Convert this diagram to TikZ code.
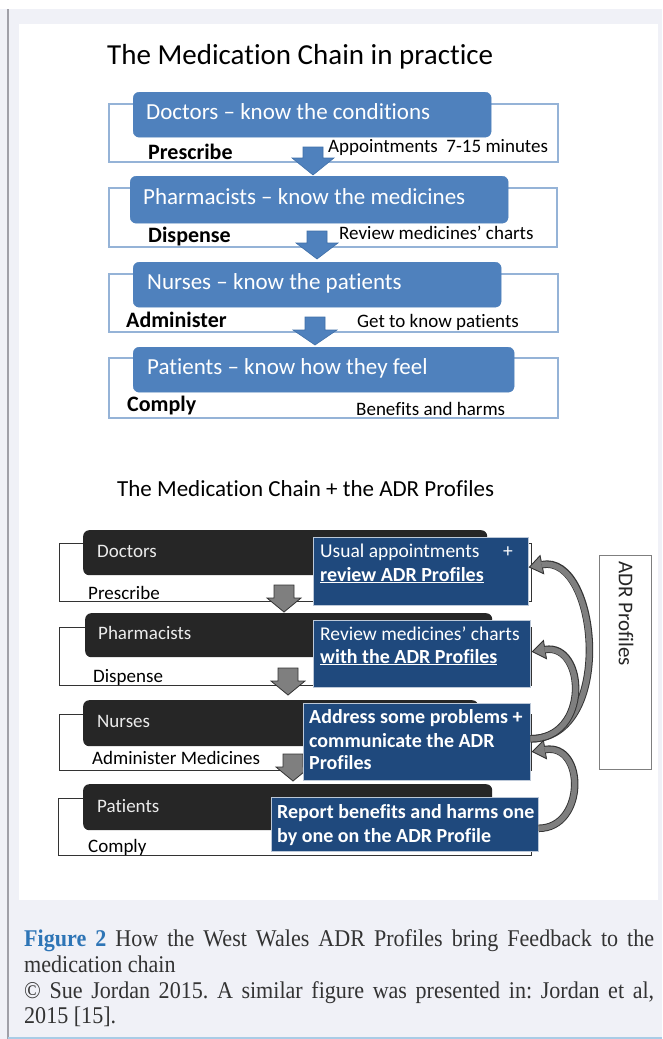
\documentclass[tikz,border=0pt]{standalone}
\usepackage{fontspec}
\setmainfont{Carlito}[Ligatures=NoCommon]
\newfontfamily\capfont{Liberation Serif}[FakeStretch=0.92]
\usetikzlibrary{arrows.meta,calc}
\definecolor{pageg}{HTML}{F0F1F7}
\definecolor{leftln}{HTML}{A0A0A8}
\definecolor{botln}{HTML}{A9CCE6}
\definecolor{tblue}{HTML}{4F81BD}
\definecolor{tblueln}{HTML}{3F6FA8}
\definecolor{tline}{HTML}{95B3D7}
\definecolor{dblue}{HTML}{1F497D}
\definecolor{blk}{HTML}{262626}
\definecolor{gline}{HTML}{333333}
\definecolor{garr}{HTML}{7F7F7F}
\definecolor{figblue}{HTML}{2E75B6}
\definecolor{captxt}{HTML}{333333}
\frenchspacing
\tikzset{
  tbox/.style={draw=tblue, fill=tblue, rounded corners=6pt, inner sep=0pt, anchor=north west},
  ttext/.style={text=white, font=\fontsize{23}{26}\selectfont, inner sep=0pt, anchor=base west},
  tlab/.style={text=black, font=\fontsize{22}{26}\selectfont\bfseries, inner sep=0pt, anchor=base west},
  tnote/.style={text=black, font=\fontsize{19}{22}\selectfont, inner sep=0pt, anchor=base west},
  toutl/.style={draw=tline, line width=1.2pt},
  tarrow/.style={fill=tblue, draw=tblueln, line width=0.6pt},
  bbox/.style={fill=blk, rounded corners=6pt, inner sep=0pt, anchor=north west},
  btext/.style={text=white!92!black, font=\fontsize{19}{22}\selectfont, inner sep=0pt, anchor=base west},
  blab/.style={text=black, font=\fontsize{19}{22}\selectfont, inner sep=0pt, anchor=base west},
  boutl/.style={draw=gline, line width=1pt},
  garrow/.style={fill=garr, draw=gline, line width=0.8pt},
  dbox/.style={fill=dblue, draw=white!70!dblue, line width=0.6pt, inner sep=0pt, anchor=north west},
  dtext/.style={text=white, font=\fontsize{19.5}{22}\selectfont, inner sep=0pt, anchor=base west},
  dbold/.style={text=white, font=\fontsize{20}{23}\selectfont\bfseries, inner sep=0pt, anchor=base west},
  curvout/.style={line width=7.5pt, draw=gline, -{Triangle[width=20pt,length=14pt,fill=garr,line width=0.9pt]}},
  curvin/.style={line width=5.6pt, draw=garr, shorten >=13pt},
  capt/.style={text=captxt, font=\capfont\fontsize{24}{26}\selectfont, inner sep=0pt, anchor=base west},
}
\begin{document}
\begin{tikzpicture}[x=1pt,y=-1pt]
\useasboundingbox (0,0) rectangle (662,1039);
% page background
\fill[pageg] (0,9) rectangle (662,1039);
\fill[white] (19,24) rectangle (658,900);
\draw[leftln, line width=1.2pt] (8,9) -- (8,1039);
\fill[botln] (8,1036.5) rectangle (662,1039);

% ---------- top diagram ----------
\node[inner sep=0pt, anchor=base west, font=\fontsize{29}{32}\selectfont] (title1) at (107,64) {The Medication Chain in practice};

\draw[toutl] (109,104) rectangle (558,162);
\draw[toutl] (109,188) rectangle (557,247);
\draw[toutl] (109,274) rectangle (558,332);
\draw[toutl] (109,358) rectangle (558,418);

\node[tbox, minimum width=358pt, minimum height=45pt] (b1) at (133,92) {};
\node[tbox, minimum width=378pt, minimum height=47pt] (b2) at (130,176) {};
\node[tbox, minimum width=368pt, minimum height=45pt] (b3) at (133,262) {};
\node[tbox, minimum width=381pt, minimum height=45pt] (b4) at (133,347) {};

\node[ttext] (t1) at (146,119) {Doctors – know the conditions};
\node[ttext] (t2) at (143,204) {Pharmacists – know the medicines};
\node[ttext] (t3) at (147,289) {Nurses – know the patients};
\node[ttext] (t4) at (147,374) {Patients – know how they feel};

\node[tlab] (l1) at (148,159) {Prescribe};
\node[tlab] (l2) at (148,242) {Dispense};
\node[tlab] (l3) at (126,327) {Administer};
\node[tlab] (l4) at (127,411) {Comply};

\node[tnote] (n1) at (328,152) {Appointments\ \ 7-15 minutes};
\node[tnote] (n2) at (339,239) {Review medicines’ charts};
\node[tnote] (n3) at (357,327) {Get to know patients};
\node[tnote] (n4) at (356,415) {Benefits and harms};

% blue block arrows
\draw[tarrow] (303,147) -- (323,147) -- (323,158) -- (334,158) -- (313,175) -- (292,158) -- (303,158) -- cycle;
\draw[tarrow] (307,231) -- (327,231) -- (327,243) -- (338,243) -- (317,259) -- (296,243) -- (307,243) -- cycle;
\draw[tarrow] (305,317) -- (325,317) -- (325,330) -- (337,330) -- (315,345) -- (293,330) -- (305,330) -- cycle;

% ---------- bottom diagram ----------
\node[inner sep=0pt, anchor=base west, font=\fontsize{23}{27}\selectfont] (title2) at (117,496) {The Medication Chain + the ADR Profiles};

\draw[boutl] (59,543) rectangle (531,601);
\draw[boutl] (59,627) rectangle (531,685);
\draw[boutl] (59,714) rectangle (531,770);
\draw[boutl] (58,798) rectangle (531,855);

\node[bbox, minimum width=404pt, minimum height=45pt] (k1) at (83,530) {};
\node[bbox, minimum width=407pt, minimum height=44pt] (k2) at (85,613) {};
\node[bbox, minimum width=395pt, minimum height=46pt] (k3) at (83,700) {};
\node[bbox, minimum width=409pt, minimum height=46pt] (k4) at (83,784) {};

\node[btext] (kt1) at (97,557) {Doctors};
\node[btext] (kt2) at (98,639) {Pharmacists};
\node[btext] (kt3) at (97,727) {Nurses};
\node[btext] (kt4) at (97,812) {Patients};

\node[blab] (kl1) at (88,599) {Prescribe};
\node[blab] (kl2) at (93,682) {Dispense};
\node[blab] (kl3) at (92,764) {Administer Medicines};
\node[blab] (kl4) at (88,852) {Comply};

% gray block arrows
\draw[garrow] (274,585) -- (294,585) -- (294,598) -- (301,598) -- (284,612) -- (267,598) -- (274,598) -- cycle;
\draw[garrow] (278,668) -- (298,668) -- (298,681) -- (305,681) -- (288,695) -- (271,681) -- (278,681) -- cycle;
\draw[garrow] (283,754) -- (303,754) -- (303,767) -- (310,767) -- (293,781) -- (276,767) -- (283,767) -- cycle;

% dark blue boxes
\node[dbox, minimum width=215pt, minimum height=68pt] (bb1) at (313,537) {};
\node[dbox, minimum width=217pt, minimum height=67pt] (bb2) at (313,620) {};
\node[dbox, minimum width=227pt, minimum height=77pt] (bb3) at (303,703) {};
\node[dbox, minimum width=267pt, minimum height=54pt] (bb4) at (271,797) {};

\node[dtext] (d1a) at (320,557) {Usual appointments};
\node[dtext] (d1p) at (503,557) {+};
\node[dbold] (d1b) at (320,581) {\underline{review ADR Profiles}};
\node[dtext] (d2a) at (320,640) {Review medicines’ charts};
\node[dbold] (d2b) at (320,663) {\underline{with the ADR Profiles}};
\node[dbold] (d3a) at (309,723) {Address some problems +};
\node[dbold] (d3b) at (309,747) {communicate the ADR};
\node[dbold] (d3c) at (309,769) {Profiles};
\node[dbold] (d4a) at (277,818) {Report benefits and harms one};
\node[dbold] (d4b) at (277,842) {by one on the ADR Profile};

% curved feedback arrows
\coordinate (s3) at ($(bb3.east)+(0,-3)$);
\coordinate (e1) at ($(bb1.east)+(0,-4)$);
\coordinate (e2) at ($(bb2.east)+(1,-2)$);
\coordinate (s4) at ($(bb4.east)+(0,4)$);
\coordinate (e3) at ($(bb3.east)+(1,10)$);
\draw[curvout] (s3) .. controls +(85,0) and +(70,-14) .. (e1);
\draw[curvin]  (s3) .. controls +(85,0) and +(70,-14) .. (e1);
\draw[curvout] (s3) .. controls +(60,0) and +(54,-9) .. (e2);
\draw[curvin]  (s3) .. controls +(60,0) and +(54,-9) .. (e2);
\draw[curvout] (s4) .. controls +(47,0) and +(54,-9) .. (e3);
\draw[curvin]  (s4) .. controls +(47,0) and +(54,-9) .. (e3);

% ADR Profiles box
\node[draw=garr, line width=1.2pt, minimum width=52pt, minimum height=214pt, inner sep=0pt, anchor=north west] (adr) at (599,555) {};
\node[rotate=-90, anchor=west, inner sep=0pt, text=black!85, font=\fontsize{21}{24}\selectfont] (adrt) at (626,561) {ADR Profiles};

% ---------- caption ----------
\node[capt] (c1) at (24,946) {\makebox[630pt][s]{\textcolor{figblue}{\textbf{Figure 2}} How the West Wales ADR Profiles bring Feedback to the}};
\node[capt] (c2) at (24,972) {medication chain};
\node[capt] (c3) at (24,998) {\makebox[630pt][s]{© Sue Jordan 2015. A similar figure was presented in: Jordan et al,}};
\node[capt] (c4) at (24,1023) {2015 [15].};
\end{tikzpicture}
\end{document}
